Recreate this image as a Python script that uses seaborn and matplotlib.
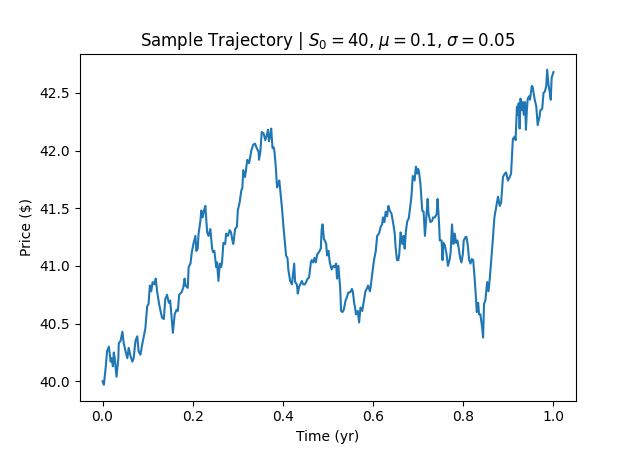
import matplotlib
matplotlib.use("Agg")
import matplotlib.pyplot as plt
import seaborn as sns
import pandas as pd

time_yr = [
    0.000, 0.003, 0.007, 0.010, 0.014, 0.018, 0.020, 0.023, 0.025, 0.027,
    0.031, 0.035, 0.036, 0.040, 0.044, 0.047, 0.051, 0.055, 0.058, 0.062,
    0.066, 0.069, 0.073, 0.077, 0.080, 0.084, 0.088, 0.091, 0.095, 0.099,
    0.102, 0.105, 0.108, 0.111, 0.115, 0.118, 0.121, 0.125, 0.128, 0.132,
    0.136, 0.139, 0.143, 0.147, 0.150, 0.154, 0.156, 0.160, 0.164, 0.167,
    0.170, 0.175, 0.179, 0.182, 0.184, 0.189, 0.191, 0.195, 0.198, 0.202,
    0.206, 0.208, 0.211, 0.213, 0.217, 0.219, 0.222, 0.225, 0.228, 0.232,
    0.235, 0.239, 0.243, 0.245, 0.248, 0.252, 0.254, 0.257, 0.260, 0.263,
    0.265, 0.268, 0.272, 0.274, 0.278, 0.282, 0.285, 0.288, 0.290, 0.294,
    0.298, 0.300, 0.304, 0.308, 0.310, 0.312, 0.316, 0.321, 0.325, 0.330,
    0.334, 0.338, 0.342, 0.346, 0.347, 0.350, 0.353, 0.357, 0.361, 0.364,
    0.367, 0.369, 0.372, 0.374, 0.377, 0.379, 0.381, 0.384, 0.387, 0.390,
    0.392, 0.394, 0.398, 0.401, 0.405, 0.407, 0.410, 0.412, 0.416, 0.420,
    0.422, 0.425, 0.427, 0.431, 0.433, 0.436, 0.442, 0.445, 0.449, 0.455,
    0.458, 0.462, 0.464, 0.467, 0.470, 0.473, 0.476, 0.480, 0.484, 0.486,
    0.488, 0.491, 0.493, 0.496, 0.498, 0.501, 0.504, 0.508, 0.512, 0.515,
    0.518, 0.520, 0.523, 0.527, 0.529, 0.532, 0.535, 0.539, 0.542, 0.545,
    0.549, 0.553, 0.555, 0.558, 0.560, 0.562, 0.566, 0.569, 0.572, 0.576,
    0.580, 0.583, 0.587, 0.589, 0.593, 0.595, 0.598, 0.602, 0.606, 0.609,
    0.613, 0.617, 0.620, 0.622, 0.625, 0.628, 0.631, 0.634, 0.637, 0.641,
    0.645, 0.648, 0.650, 0.653, 0.656, 0.658, 0.661, 0.663, 0.665, 0.668,
    0.670, 0.673, 0.676, 0.679, 0.681, 0.685, 0.688, 0.691, 0.692, 0.695,
    0.698, 0.700, 0.702, 0.705, 0.709, 0.712, 0.715, 0.718, 0.721, 0.723,
    0.727, 0.731, 0.733, 0.737, 0.741, 0.743, 0.746, 0.748, 0.752, 0.754,
    0.756, 0.759, 0.763, 0.766, 0.770, 0.772, 0.775, 0.778, 0.781, 0.784,
    0.787, 0.790, 0.793, 0.796, 0.799, 0.801, 0.805, 0.807, 0.810, 0.813,
    0.816, 0.819, 0.822, 0.825, 0.828, 0.830, 0.833, 0.835, 0.838, 0.840,
    0.842, 0.844, 0.846, 0.849, 0.851, 0.853, 0.856, 0.859, 0.862, 0.866,
    0.869, 0.873, 0.877, 0.881, 0.884, 0.888, 0.892, 0.895, 0.899, 0.903,
    0.906, 0.910, 0.914, 0.916, 0.919, 0.921, 0.923, 0.925, 0.927, 0.930,
    0.932, 0.934, 0.937, 0.939, 0.941, 0.943, 0.946, 0.948, 0.952, 0.954,
    0.958, 0.962, 0.965, 0.969, 0.971, 0.975, 0.978, 0.981, 0.984, 0.986,
    0.989, 0.992, 0.994, 0.996, 1.000,
]

price = [
    40.00, 39.97, 40.12, 40.26, 40.30, 40.17, 40.20, 40.13, 40.25, 40.20,
    40.04, 40.20, 40.33, 40.35, 40.43, 40.33, 40.26, 40.20, 40.29, 40.22,
    40.17, 40.20, 40.35, 40.39, 40.26, 40.23, 40.32, 40.38, 40.46, 40.65,
    40.67, 40.83, 40.78, 40.86, 40.84, 40.89, 40.78, 40.68, 40.62, 40.55,
    40.54, 40.71, 40.75, 40.68, 40.70, 40.52, 40.42, 40.58, 40.62, 40.61,
    40.75, 40.77, 40.81, 40.89, 40.83, 40.81, 40.99, 41.02, 41.12, 41.20,
    41.26, 41.13, 41.15, 41.28, 41.39, 41.48, 41.42, 41.48, 41.52, 41.29,
    41.26, 41.32, 41.15, 41.12, 41.13, 40.99, 41.03, 40.87, 41.02, 40.99,
    41.03, 41.20, 41.19, 41.28, 41.26, 41.31, 41.29, 41.22, 41.19, 41.32,
    41.34, 41.48, 41.55, 41.66, 41.67, 41.83, 41.77, 41.92, 41.89, 42.00,
    42.05, 42.06, 42.02, 41.99, 41.92, 41.99, 42.16, 42.15, 42.09, 42.13,
    42.18, 42.08, 42.13, 42.19, 42.02, 42.03, 42.00, 41.87, 41.68, 41.71,
    41.74, 41.66, 41.50, 41.35, 41.18, 41.09, 41.07, 40.97, 40.87, 40.84,
    40.91, 41.02, 40.86, 40.84, 40.76, 40.82, 40.87, 40.84, 40.84, 40.89,
    40.90, 41.03, 41.05, 41.03, 41.07, 41.03, 41.10, 41.12, 41.15, 41.32,
    41.36, 41.23, 41.22, 41.19, 41.09, 41.13, 41.03, 40.97, 41.00, 40.99,
    41.02, 40.89, 41.00, 40.81, 40.61, 40.60, 40.62, 40.70, 40.73, 40.77,
    40.77, 40.80, 40.78, 40.68, 40.64, 40.58, 40.61, 40.51, 40.64, 40.61,
    40.71, 40.78, 40.81, 40.83, 40.78, 40.83, 40.93, 41.05, 41.13, 41.26,
    41.28, 41.34, 41.36, 41.42, 41.38, 41.47, 41.43, 41.52, 41.48, 41.45,
    41.36, 41.28, 41.16, 41.05, 41.05, 41.10, 41.29, 41.25, 41.19, 41.26,
    41.15, 41.31, 41.39, 41.41, 41.47, 41.60, 41.78, 41.75, 41.74, 41.86,
    41.80, 41.84, 41.81, 41.71, 41.48, 41.47, 41.26, 41.42, 41.58, 41.45,
    41.38, 41.39, 41.42, 41.42, 41.45, 41.58, 41.39, 41.22, 41.22, 41.05,
    41.20, 41.18, 41.10, 41.00, 41.06, 41.12, 41.36, 41.19, 41.28, 41.20,
    41.22, 41.15, 41.07, 41.03, 41.10, 41.22, 41.25, 41.25, 41.18, 41.05,
    41.02, 41.06, 41.05, 40.90, 40.73, 40.60, 40.68, 40.58, 40.58, 40.52,
    40.46, 40.38, 40.67, 40.70, 40.78, 40.86, 40.78, 40.90, 41.05, 41.25,
    41.42, 41.51, 41.60, 41.52, 41.55, 41.77, 41.80, 41.81, 41.74, 41.77,
    41.80, 42.10, 42.12, 42.09, 42.38, 42.31, 42.41, 42.19, 42.45, 42.35,
    42.42, 42.31, 42.42, 42.18, 42.35, 42.45, 42.47, 42.44, 42.56, 42.55,
    42.45, 42.38, 42.22, 42.29, 42.35, 42.36, 42.50, 42.51, 42.56, 42.70,
    42.57, 42.50, 42.44, 42.63, 42.68,
]

df = pd.DataFrame({"Time (yr)": time_yr, "Price ($)": price})

fig, ax = plt.subplots(figsize=(6.4, 4.5), dpi=100)
sns.lineplot(data=df, x="Time (yr)", y="Price ($)", ax=ax,
             sort=False, estimator=None, color="#1f77b4", linewidth=1.5)
ax.set_title(r"Sample Trajectory | $S_0 = 40$, $\mu = 0.1$, $\sigma = 0.05$")
ax.set_xlabel("Time (yr)")
ax.set_ylabel("Price ($)")
fig.savefig("out.png", dpi=100)
